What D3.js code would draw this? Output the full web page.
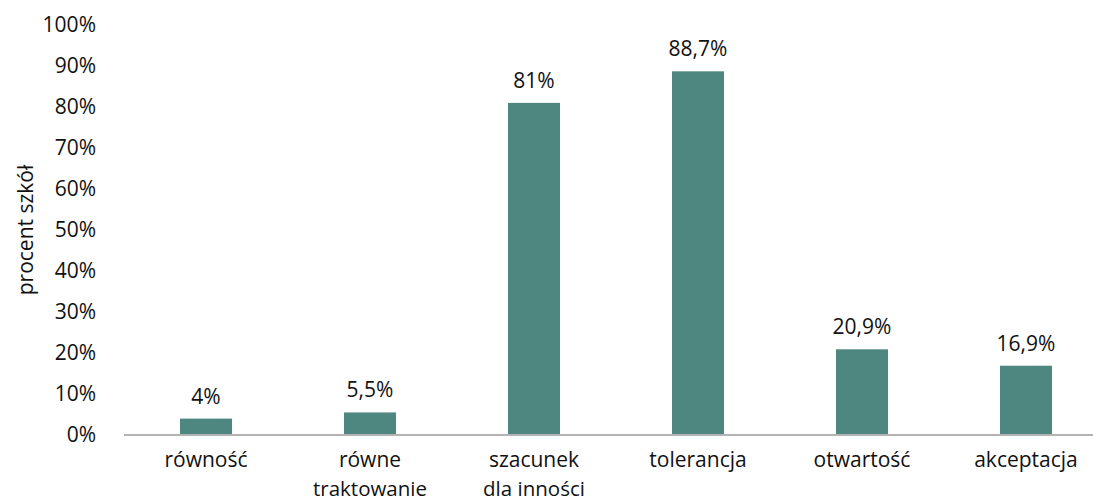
<!DOCTYPE html>
<html>
<head>
<meta charset="utf-8">
<script src="https://cdn.jsdelivr.net/npm/d3@7"></script>
<style>
  body { margin: 0; background: #fff; }
  svg text { font-family: "Open Sans", sans-serif; fill: #111; }
</style>
</head>
<body>
<svg id="chart" width="1093" height="501"></svg>
<script>
// data
const categories = ["równość", "równe\ntraktowanie", "szacunek\ndla inności", "tolerancja", "otwartość", "akceptacja"];
const values = [4, 5.5, 81, 88.7, 20.9, 16.9];
const valueLabels = ["4%", "5,5%", "81%", "88,7%", "20,9%", "16,9%"];
const yTicks = [0, 10, 20, 30, 40, 50, 60, 70, 80, 90, 100];

const svg = d3.select("#chart");
const fontSize = 21;

const x = d3.scaleBand()
    .domain(categories)
    .range([124, 1108])
    .paddingInner(0.683)
    .paddingOuter(0.683 / 2);

const y = d3.scaleLinear()
    .domain([0, 100])
    .range([435, 25]);

// bars
svg.append("g").selectAll("rect")
  .data(values)
  .enter().append("rect")
    .attr("x", (d, i) => x(categories[i]))
    .attr("width", x.bandwidth())
    .attr("y", d => y(d))
    .attr("height", d => y(0) - y(d))
    .attr("fill", "#4e8680");

// value labels
svg.append("g").selectAll("text")
  .data(values)
  .enter().append("text")
    .attr("x", (d, i) => x(categories[i]) + x.bandwidth() / 2)
    .attr("y", d => y(d) - 15)
    .attr("text-anchor", "middle")
    .style("font-size", fontSize + "px")
    .text((d, i) => valueLabels[i]);

// baseline
svg.append("line")
    .attr("x1", 124).attr("x2", 1093)
    .attr("y1", y(0)).attr("y2", y(0))
    .attr("stroke", "#b4b4b4")
    .attr("stroke-width", 2);

// y axis labels (no axis line)
const yAxis = d3.axisLeft(y)
    .tickValues(yTicks)
    .tickSize(0)
    .tickPadding(0)
    .tickFormat(d => d + "%");

const gy = svg.append("g")
    .attr("transform", "translate(96,0)")
    .call(yAxis);
gy.select(".domain").remove();
gy.selectAll("text")
    .style("font-size", fontSize + "px")
    .attr("dy", "0.32em");

// x category labels, one text per line
const gx = svg.append("g");
categories.forEach(c => {
  c.split("\n").forEach((line, k) => {
    gx.append("text")
        .attr("x", x(c) + x.bandwidth() / 2)
        .attr("y", 467 + k * 28.5)
        .attr("text-anchor", "middle")
        .style("font-size", (k === 0 ? fontSize : 20.5) + "px")
        .text(line);
  });
});

// y axis title
svg.append("text")
    .attr("transform", "translate(33," + ((y(0) + y(100)) / 2) + ") rotate(-90)")
    .attr("text-anchor", "middle")
    .style("font-size", fontSize + "px")
    .text("procent szkół");
</script>
</body>
</html>
